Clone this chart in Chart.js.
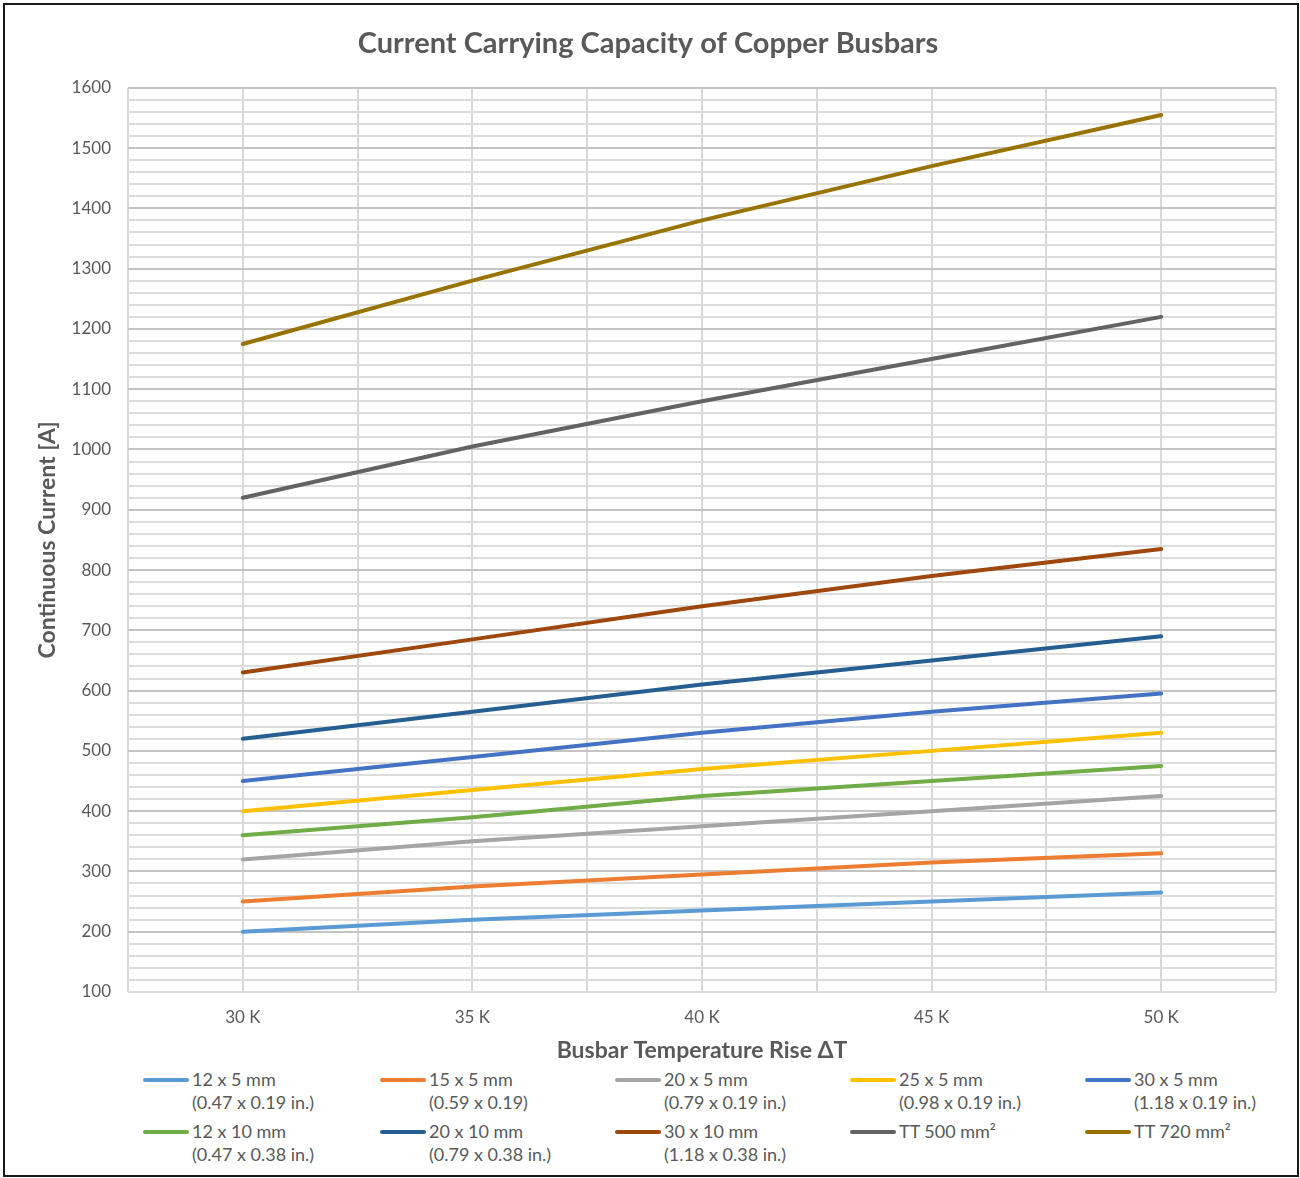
<!DOCTYPE html>
<html>
<head>
<meta charset="utf-8">
<script src="https://cdn.jsdelivr.net/npm/chart.js@4.4.1/dist/chart.umd.min.js"></script>
<style>
  html,body{margin:0;padding:0;background:#fff;}
  #page{position:relative;width:1300px;height:1178px;overflow:hidden;font-family:Lato,"Open Sans",sans-serif;}
  #frame{position:absolute;left:3px;top:3px;width:1292px;height:1170px;border:2px solid #1a1a1a;}
  #chart{position:absolute;left:0;top:0;}
  .lg{position:absolute;display:flex;align-items:flex-start;color:#595959;font-size:18px;line-height:23px;}
  .sw{width:46px;height:4px;border-radius:2px;margin-top:10px;margin-right:3px;}
</style>
</head>
<body>
<div id="page">
  <div id="frame"></div>
  <canvas id="chart" width="1300" height="1068"></canvas>
  <div id="legend"></div>
</div>
<script>
const temps=[30,35,40,45,50];
const names=["12 x 5 mm","15 x 5 mm","20 x 5 mm","25 x 5 mm","30 x 5 mm","12 x 10 mm","20 x 10 mm","30 x 10 mm","TT 500 mm²","TT 720 mm²"];
const inches=["(0.47 x 0.19 in.)","(0.59 x 0.19)","(0.79 x 0.19 in.)","(0.98 x 0.19 in.)","(1.18 x 0.19 in.)","(0.47 x 0.38 in.)","(0.79 x 0.38 in.)","(1.18 x 0.38 in.)","",""];
const colors=["#5B9BD5","#ED7D31","#A5A5A5","#FFC000","#4472C4","#70AD47","#255E91","#9E480E","#636363","#997300"];

const bar12x5=[200,220,235,250,265];
const bar15x5=[250,275,295,315,330];
const bar20x5=[320,350,375,400,425];
const bar25x5=[400,435,470,500,530];
const bar30x5=[450,490,530,565,595];
const bar12x10=[360,390,425,450,475];
const bar20x10=[520,565,610,650,690];
const bar30x10=[630,685,740,790,835];
const tt500=[920,1005,1080,1150,1220];
const tt720=[1175,1280,1380,1470,1555];
const series=[bar12x5,bar15x5,bar20x5,bar25x5,bar30x5,bar12x10,bar20x10,bar30x10,tt500,tt720];

const gray="#595959";
const font="Lato, 'Open Sans', sans-serif";

new Chart(document.getElementById("chart"),{
  type:"line",
  data:{
    datasets:series.map((s,i)=>({
      label:names[i],
      data:temps.map((t,j)=>({x:t,y:s[j]})),
      borderColor:colors[i],
      backgroundColor:colors[i],
      borderWidth:4,
      borderCapStyle:"round",
      pointRadius:0,
      tension:0
    }))
  },
  options:{
    responsive:false,
    animation:false,
    layout:{padding:{left:20,right:24,top:16,bottom:4}},
    plugins:{
      legend:{display:false},
      tooltip:{enabled:false},
      title:{display:true,text:"Current Carrying Capacity of Copper Busbars",color:gray,
        font:{family:font,size:29,weight:"bold"},padding:{top:10,bottom:27}}
    },
    scales:{
      x:{type:"linear",min:27.5,max:52.5,
        border:{display:false},
        grid:{color:"#d9d9d9",lineWidth:2,drawTicks:false},
        ticks:{stepSize:2.5,autoSkip:false,maxRotation:0,padding:15,color:gray,font:{family:font,size:17},
          callback:v=>(Math.round(v*10)%50===0? v+" K":"")},
        title:{display:true,text:"Busbar Temperature Rise ΔT",color:gray,
          font:{family:font,size:23,weight:"bold"},padding:{top:-6,bottom:0}}
      },
      y:{min:100,max:1600,
        border:{display:false},
        grid:{lineWidth:2,drawTicks:false,
          color:c=>(c.tick && c.tick.value%100===0 && c.tick.value!==100 ? "#c4c4c4":"#dcdcdc")},
        ticks:{stepSize:20,autoSkip:false,padding:17,color:gray,font:{family:font,size:17},
          callback:v=>(Math.round(v)%100===0? Math.round(v):"")},
        title:{display:true,text:"Continuous Current [A]",color:gray,
          font:{family:font,size:23,weight:"bold"},padding:{top:14,bottom:0}},
        afterFit:s=>{s.width=108;}
      }
    }
  }
});

// legend: two rows of five
const legend=document.getElementById("legend");
const colX=[143,380,615,850,1085];
const rowY=[1068,1120];
names.forEach((n,i)=>{
  const d=document.createElement("div");
  d.className="lg";
  d.style.left=colX[i%5]+"px";
  d.style.top=rowY[Math.floor(i/5)]+"px";
  d.innerHTML='<div class="sw" style="background:'+colors[i]+'"></div><div>'+n+(inches[i]?'<br>'+inches[i]:'')+'</div>';
  legend.appendChild(d);
});
</script>
</body>
</html>
